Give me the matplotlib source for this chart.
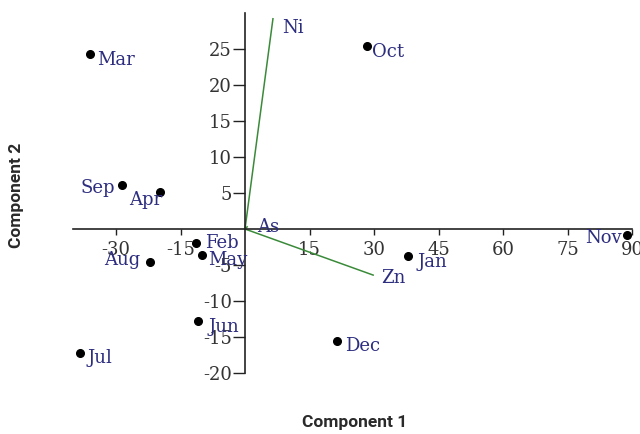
import matplotlib
matplotlib.use("Agg")
import matplotlib.pyplot as plt

months = ["Mar", "Oct", "Sep", "Apr", "Feb", "May", "Aug", "Jan", "Nov", "Jun", "Jul", "Dec"]
comp1 = [-36.0, 28.4, -28.6, -19.8, -11.4, -10.0, -22.1, 37.9, 88.8, -10.9, -38.4, 21.4]
comp2 = [24.3, 25.4, 6.1, 5.1, -1.9, -3.6, -4.6, -3.75, -0.8, -12.8, -17.2, -15.6]

metals = ["Ni", "Zn", "As"]
load1 = [6.5, 29.8, 0.5]
load2 = [29.2, -6.4, 0.3]

xticks = [-30, -15, 15, 30, 45, 60, 75, 90]
yticks = [-20, -15, -10, -5, 5, 10, 15, 20, 25]

# label placement: (dx px, baseline px below point, alignment)
month_offsets = {
    "Mar": (7, 11, "left"), "Oct": (5, 11, "left"), "Sep": (-7, 8, "right"),
    "Apr": (2, 13, "right"), "Feb": (9, 5, "left"), "May": (6, 10, "left"),
    "Aug": (-10, 3, "right"), "Jan": (10, 11, "left"), "Nov": (-5, 8, "right"),
    "Jun": (10, 11, "left"), "Jul": (8, 10, "left"), "Dec": (8, 10, "left"),
}
metal_offsets = {"Ni": (9, 14, "left"), "Zn": (8, 8, "left"), "As": (10, 5, "left")}

serif = "DejaVu Serif"
fs = 13
navy = "#2d2d80"

fig = plt.figure(figsize=(6.4, 4.34), dpi=100)
ax = fig.add_axes([73/640, 1-373/434, (632-73)/640, (373-13)/434])
ax.set_xlim(-40, 90)
ax.set_ylim(-20, 30)

for s in ["top", "right"]:
    ax.spines[s].set_visible(False)
ax.spines["left"].set_position(("data", 0))
ax.spines["bottom"].set_position(("data", 0))
for s in ["left", "bottom"]:
    ax.spines[s].set_color("#222222")
    ax.spines[s].set_linewidth(1.2)

ax.set_xticks(xticks)
ax.set_yticks(yticks)
ax.set_xticklabels([str(t) for t in xticks], fontfamily=serif, fontsize=fs, color="#333333")
ax.set_yticklabels([str(t) for t in yticks], fontfamily=serif, fontsize=fs, color="#333333")
ax.tick_params(axis="x", direction="out", length=4.5, width=1, color="#222222", pad=4)
ax.tick_params(axis="y", direction="out", length=8.5, width=1, color="#222222", pad=1)

for name, x, y in zip(metals, load1, load2):
    ax.plot([0, x], [0, y], color="#3a8a3a", lw=1.1, zorder=2)
    dx, dy, ha = metal_offsets[name]
    ax.annotate(name, (x, y), xytext=(dx, -dy), textcoords="offset pixels",
                ha=ha, va="baseline", fontfamily=serif, fontsize=fs, color=navy,
                annotation_clip=False)

ax.plot(comp1, comp2, "o", color="black", ms=5.5, clip_on=False, zorder=3)
for name, x, y in zip(months, comp1, comp2):
    dx, dy, ha = month_offsets[name]
    ax.annotate(name, (x, y), xytext=(dx, -dy), textcoords="offset pixels",
                ha=ha, va="baseline", fontfamily=serif, fontsize=fs, color=navy,
                annotation_clip=False)

fig.text(355/640, 1-423/434, "Component 1", ha="center", va="center",
         fontfamily="Roboto", fontweight="bold", fontsize=12.5, color="#2a2a2a")
fig.text(17/640, 1-195/434, "Component 2", ha="center", va="center", rotation=90,
         fontfamily="Roboto", fontweight="bold", fontsize=12.5, color="#2a2a2a")

fig.savefig("out.png", dpi=100)
